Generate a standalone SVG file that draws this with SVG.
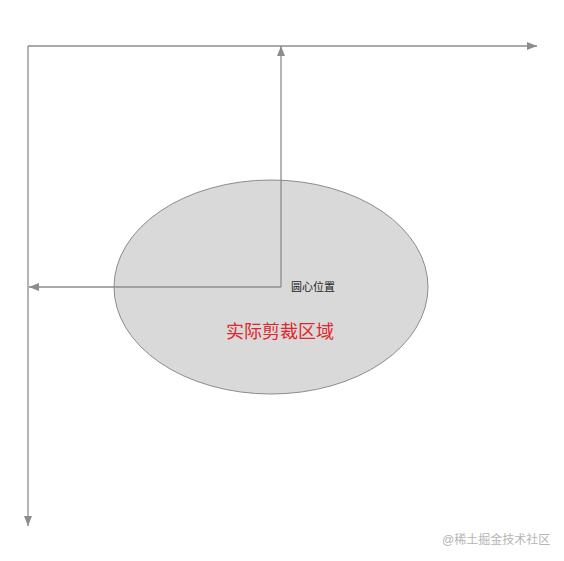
<svg xmlns="http://www.w3.org/2000/svg" width="564" height="561" viewBox="0 0 564 561">
<style>
.ln{stroke:#8c8c8c;stroke-width:1.3;fill:none}
.cjk{font-family:"Liberation Sans","Noto Sans CJK SC",sans-serif}
</style>
<defs>
<marker id="ah" viewBox="0 0 10 8" refX="10" refY="4" markerWidth="10" markerHeight="8" markerUnits="userSpaceOnUse" orient="auto">
<path d="M0,0 L10,4 L0,8 Z" fill="#8c8c8c"/>
</marker>
</defs>
<rect width="564" height="561" fill="#ffffff"/>
<g id="clip-area">
<ellipse cx="271" cy="287" rx="157" ry="107" fill="#d9d9d9" stroke="#8c8c8c" stroke-width="1"/>
<text class="cjk" x="280" y="338" font-size="18" fill="#e0262a" text-anchor="middle">实际剪裁区域</text>
</g>
<g id="connectors">
<path class="ln" d="M28,46 L537,46" marker-end="url(#ah)"/>
<path class="ln" d="M28,46 L28,526" marker-end="url(#ah)"/>
<path class="ln" d="M281,287 L281,46" marker-end="url(#ah)"/>
<path class="ln" d="M281,287 L29,287" marker-end="url(#ah)"/>
</g>
<g id="center-label">
<text class="cjk" x="291" y="291" font-size="11" fill="#222">圆心位置</text>
</g>
<g id="watermark">
<text class="cjk" x="442" y="544" font-size="12" fill="#b5b5b5">@稀土掘金技术社区</text>
</g>
</svg>
